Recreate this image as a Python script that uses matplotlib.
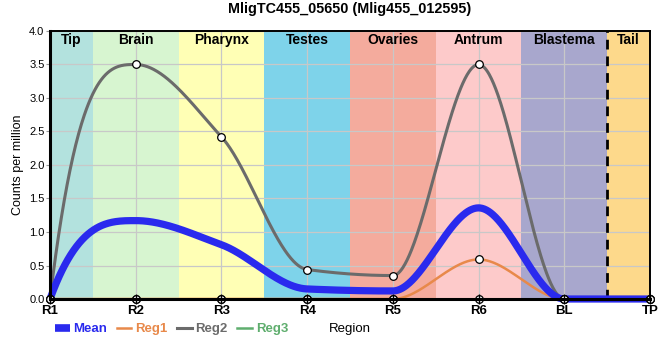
import numpy as np
import matplotlib
matplotlib.use("Agg")
import matplotlib.pyplot as plt
from matplotlib.lines import Line2D

plt.rcParams['font.family'] = ['Liberation Sans', 'DejaVu Sans']

# ---- data ----
tick_labels = ["R1", "R2", "R3", "R4", "R5", "R6", "BL", "TP"]
mean_vals = [0.0, 1.17, 0.81, 0.15, 0.12, 1.36, 0.0, 0.0]
reg1_vals = [0.0, 0.0, 0.0, 0.0, 0.0, 0.59, 0.0, 0.0]
reg2_vals = [0.0, 3.50, 2.42, 0.44, 0.35, 3.50, 0.0, 0.0]
reg3_vals = [0.0, 0.0, 0.0, 0.0, 0.0, 0.0, 0.0, 0.0]
region_names = ["Tip", "Brain", "Pharynx", "Testes", "Ovaries", "Antrum", "Blastema", "Tail"]
region_bounds = [(0, 0.5), (0.5, 1.5), (1.5, 2.5), (2.5, 3.5), (3.5, 4.5), (4.5, 5.5), (5.5, 6.5), (6.5, 7)]
region_colors = ["#b3e2de", "#d7f5d0", "#ffffb5", "#7ed3ea", "#f4ab9d", "#fdcaca", "#a8a7cd", "#fdd98b"]
title = "MligTC455_05650 (Mlig455_012595)"


def monotone_curve(y, per=120):
    y = np.asarray(y, float)
    n = len(y)
    x = np.arange(n, dtype=float)
    delta = np.diff(y)
    d = np.zeros(n)
    for k in range(1, n - 1):
        if delta[k - 1] * delta[k] > 0:
            d[k] = 2.0 / (1.0 / delta[k - 1] + 1.0 / delta[k])
    d[0] = 3 * delta[0]
    d[-1] = 3 * delta[-1]
    xs, ys = [], []
    for k in range(n - 1):
        t = np.linspace(0, 1, per, endpoint=(k == n - 2))
        h00 = 2 * t**3 - 3 * t**2 + 1
        h10 = t**3 - 2 * t**2 + t
        h01 = -2 * t**3 + 3 * t**2
        h11 = t**3 - t**2
        xs.append(x[k] + t)
        ys.append(h00 * y[k] + h10 * d[k] + h01 * y[k + 1] + h11 * d[k + 1])
    return np.concatenate(xs), np.concatenate(ys)


fig = plt.figure(figsize=(6.6, 3.6), dpi=100)
ax = fig.add_axes([50 / 660, 61 / 360, 600 / 660, 268 / 360])

for (a, b), c, name in zip(region_bounds, region_colors, region_names):
    ax.axvspan(a, b, color=c, lw=0, zorder=0)
    ax.text((a + b) / 2, 3.87, name, ha='center', va='center', fontsize=10,
            fontweight='bold', zorder=12)

xpos = np.arange(len(tick_labels))
yticks = np.arange(0, 4.01, 0.5)

# grid lines (below the data lines)
for xv in xpos:
    ax.axvline(xv, color='#c8c8c8', lw=0.9, zorder=1)
for yv in yticks:
    ax.axhline(yv, color='#c8c8c8', lw=0.9, zorder=1)

ax.axvline(6.5, color='black', lw=2, ls=(0, (3.5, 2.5)), zorder=6)

series = [("Reg1", reg1_vals, "#e8894a", 1.8, 5),
          ("Reg2", reg2_vals, "#6b6b6b", 2.2, 6),
          ("Reg3", reg3_vals, "#5fae6e", 1.8, 4)]
for name, vals, col, lw, z in series:
    cx, cy = monotone_curve(vals)
    ax.plot(cx, cy, color=col, lw=lw, zorder=z, clip_on=False, solid_capstyle='round')
    ax.plot(xpos, vals, ls='none', marker='o', ms=5.5, mfc='white', mec='black',
            mew=0.9, zorder=9, clip_on=False)

cx, cy = monotone_curve(mean_vals)
ax.plot(cx, cy, color='#2a2aee', lw=5.2, zorder=8, clip_on=False, solid_capstyle='butt')

ax.set_xlim(0, 7)
ax.set_ylim(0, 4)
ax.set_xticks(xpos)
ax.set_xticklabels(tick_labels, fontsize=9.5, fontweight='bold')
ax.set_yticks(yticks)
ax.set_yticklabels([f"{v:.1f}" for v in yticks], fontsize=8)
ax.tick_params(axis='x', direction='inout', length=7, width=1, color='black', pad=1)
ax.tick_params(axis='y', direction='out', length=3, width=0.8, color='#999999', pad=1)
ax.xaxis.set_zorder(11)

for s in ['left', 'bottom']:
    ax.spines[s].set_linewidth(2.2)
    ax.spines[s].set_zorder(10)
for s in ['top', 'right']:
    ax.spines[s].set_linewidth(1.4)
    ax.spines[s].set_zorder(10)

ax.set_ylabel("Counts per million", fontsize=9)
ax.yaxis.label.set_va('center')
ax.yaxis.set_label_coords(-32 / 600, 0.5)
ax.set_xlabel("Region", fontsize=9.5)
ax.xaxis.label.set_va('center')
ax.xaxis.set_label_coords(0.5, -30 / 268)

ax.set_title(title, fontsize=10.4, fontweight='bold', pad=13)

handles = [Line2D([], [], color='#2a2aee', lw=5.5, solid_capstyle='butt'),
           Line2D([], [], color='#e8894a', lw=1.8),
           Line2D([], [], color='#6b6b6b', lw=2.2),
           Line2D([], [], color='#5fae6e', lw=1.8)]
leg = fig.legend(handles, ["Mean", "Reg1", "Reg2", "Reg3"], loc='center left',
                 bbox_to_anchor=(55 / 660, 1 - 329 / 360), ncol=4, frameon=False,
                 handlelength=1.1, handletextpad=0.3, columnspacing=0.72,
                 prop={'weight': 'bold', 'size': 9.5}, labelcolor='linecolor',
                 borderaxespad=0, borderpad=0)

fig.savefig("out.png", dpi=100)
